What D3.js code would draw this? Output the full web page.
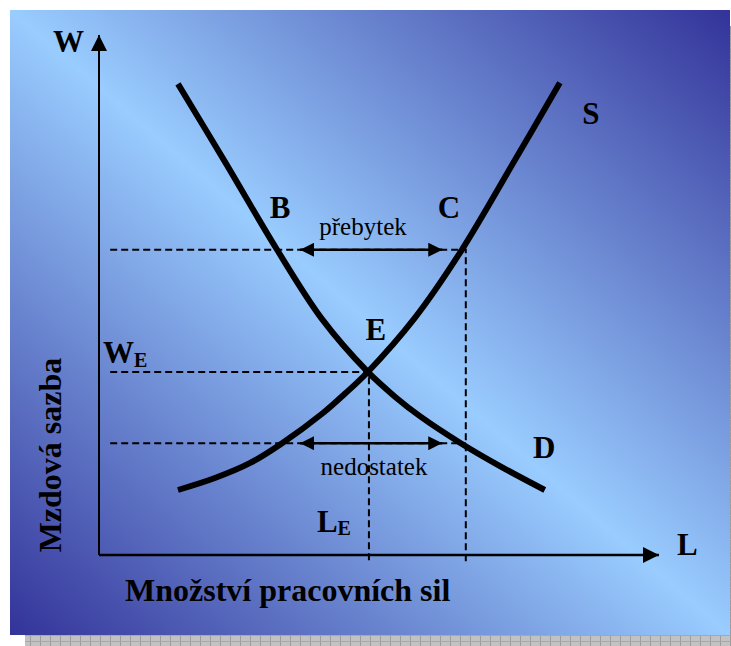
<!DOCTYPE html>
<html>
<head>
<meta charset="utf-8">
<script src="https://cdn.jsdelivr.net/npm/d3@7"></script>
<style>
  body { margin: 0; background: #fff; }
  text { font-family: "Liberation Serif", "Times New Roman", serif; }
</style>
</head>
<body>
<svg id="chart" width="731" height="646"></svg>
<script>
// demand curve (labour L, wage W), chart units 0-100
const demand = [
  { l: 14.1, w: 90.6 }, { l: 22.5, w: 75.6 }, { l: 31.8, w: 58.7 },
  { l: 39.8, w: 45.4 }, { l: 48.0, w: 35.2 }, { l: 52.9, w: 30.4 },
  { l: 57.3, w: 26.7 }, { l: 64.6, w: 21.5 }, { l: 71.6, w: 17.1 },
  { l: 79.6, w: 12.5 }
];
// supply curve
const supply = [
  { l: 14.1, w: 12.5 }, { l: 20.7, w: 14.8 }, { l: 27.0, w: 17.7 },
  { l: 32.7, w: 21.5 }, { l: 40.0, w: 27.3 }, { l: 43.9, w: 31.0 },
  { l: 48.0, w: 35.2 }, { l: 56.4, w: 45.6 }, { l: 64.8, w: 58.7 },
  { l: 74.3, w: 76.0 }, { l: 82.3, w: 90.8 }
];
// wage levels and labour quantities
const wageHigh = 58.7, wageEq = 35.2, wageLow = 21.5;
const laborEq = 48.2, laborHigh = 65.5;
// gap arrows (from, to) in labour units
const gapArrow = [35.9, 61.3];
// point labels: text, position in chart units
const pointLabels = [
  { t: "S", l: 86.3, w: 82.9 },
  { t: "B", l: 30.5, w: 64.8 },
  { t: "C", l: 60.5, w: 64.8 },
  { t: "E", l: 47.6, w: 41.3 },
  { t: "D", l: 77.5, w: 18.7 }
];

const svg = d3.select("#chart");
const defs = svg.append("defs");

// background gradient (dark corners top-right / bottom-left)
const grad = defs.append("linearGradient")
  .attr("id", "bg")
  .attr("x1", 1).attr("y1", 0).attr("x2", 0).attr("y2", 1);
grad.append("stop").attr("offset", 0).attr("stop-color", "#333399");
grad.append("stop").attr("offset", 0.5).attr("stop-color", "#99ccff");
grad.append("stop").attr("offset", 1).attr("stop-color", "#333399");

// gray shadow pattern
const pat = defs.append("pattern")
  .attr("id", "shadow")
  .attr("patternUnits", "userSpaceOnUse")
  .attr("width", 10).attr("height", 6);
pat.append("rect").attr("width", 10).attr("height", 6).attr("fill", "#c2c2c2");
pat.append("rect").attr("width", 1).attr("height", 6).attr("fill", "#9c9c9c");
pat.append("rect").attr("y", 5).attr("width", 10).attr("height", 1).attr("fill", "#a8a8a8");

svg.append("rect").attr("x", 25).attr("y", 635).attr("width", 706).attr("height", 11)
  .attr("fill", "url(#shadow)");
svg.append("rect").attr("x", 730).attr("y", 26).attr("width", 1).attr("height", 620)
  .attr("fill", "url(#shadow)");
svg.append("rect").attr("x", 10).attr("y", 10).attr("width", 720).attr("height", 625)
  .attr("fill", "url(#bg)");

// arrow markers
function marker(id, len, half) {
  defs.append("marker")
    .attr("id", id)
    .attr("markerUnits", "userSpaceOnUse")
    .attr("markerWidth", len).attr("markerHeight", half * 2)
    .attr("refX", len).attr("refY", half)
    .attr("orient", "auto-start-reverse")
    .append("path")
    .attr("d", `M0,0L${len},${half}L0,${half * 2}Z`)
    .attr("fill", "#000");
}
marker("axisHead", 16, 8);
marker("gapHead", 14, 7);

// scales
const x = d3.scaleLinear().domain([0, 100]).range([99, 659]);
const y = d3.scaleLinear().domain([0, 100]).range([555, 35]);

// dashed guide lines
const dashed = [
  [[2, wageHigh], [laborHigh, wageHigh], [laborHigh, -1.4]],
  [[2, wageEq], [laborEq, wageEq], [laborEq, -1.4]],
  [[2, wageLow], [laborHigh, wageLow]]
];
const guide = d3.line().x((d) => x(d[0])).y((d) => y(d[1]));
svg.selectAll(".guide")
  .data(dashed)
  .join("path")
  .attr("class", "guide")
  .attr("d", guide)
  .attr("fill", "none")
  .attr("stroke", "#000")
  .attr("stroke-width", 2)
  .attr("stroke-dasharray", "7,4");

// axes with arrow heads
svg.append("line")
  .attr("x1", x(0)).attr("y1", y(0)).attr("x2", x(0)).attr("y2", y(100))
  .attr("stroke", "#000").attr("stroke-width", 2)
  .attr("marker-end", "url(#axisHead)");
svg.append("line")
  .attr("x1", x(0)).attr("y1", y(0)).attr("x2", x(100)).attr("y2", y(0))
  .attr("stroke", "#000").attr("stroke-width", 2.5)
  .attr("marker-end", "url(#axisHead)");

// surplus / shortage double arrows
svg.selectAll(".gap")
  .data([wageHigh, wageLow])
  .join("line")
  .attr("class", "gap")
  .attr("x1", x(gapArrow[0])).attr("x2", x(gapArrow[1]))
  .attr("y1", (d) => y(d)).attr("y2", (d) => y(d))
  .attr("stroke", "#000").attr("stroke-width", 2.5)
  .attr("marker-start", "url(#gapHead)")
  .attr("marker-end", "url(#gapHead)");

// curves
const curve = d3.line()
  .x((d) => x(d.l))
  .y((d) => y(d.w))
  .curve(d3.curveCatmullRom);
svg.selectAll(".curve")
  .data([demand, supply])
  .join("path")
  .attr("class", "curve")
  .attr("d", curve)
  .attr("fill", "none")
  .attr("stroke", "#000")
  .attr("stroke-width", 6);

// point labels
svg.selectAll(".plabel")
  .data(pointLabels)
  .join("text")
  .attr("class", "plabel")
  .attr("x", (d) => x(d.l))
  .attr("y", (d) => y(d.w))
  .attr("font-size", 31)
  .attr("font-weight", "bold")
  .text((d) => d.t);

// axis letters
svg.append("text").attr("x", 53).attr("y", 52)
  .attr("font-size", 31).attr("font-weight", "bold").text("W");
svg.append("text").attr("x", 677).attr("y", 555)
  .attr("font-size", 31).attr("font-weight", "bold").text("L");

// W_E and L_E with subscripts
const we = svg.append("text").attr("x", 103).attr("y", y(wageEq) - 9)
  .attr("font-size", 31).attr("font-weight", "bold");
we.append("tspan").text("W");
we.append("tspan").attr("font-size", 20).attr("dy", 4).text("E");
const le = svg.append("text").attr("x", x(laborEq) - 52).attr("y", 532)
  .attr("font-size", 31).attr("font-weight", "bold");
le.append("tspan").text("L");
le.append("tspan").attr("font-size", 20).attr("dy", 3).text("E");

// gap labels
svg.append("text").attr("x", 363).attr("y", 235)
  .attr("text-anchor", "middle").attr("font-size", 25).text("přebytek");
svg.append("text").attr("x", 374).attr("y", 475)
  .attr("text-anchor", "middle").attr("font-size", 25).text("nedostatek");

// axis titles
svg.append("text").attr("x", 125).attr("y", 601)
  .attr("font-size", 32).attr("font-weight", "bold")
  .text("Množství pracovních sil");
svg.append("text")
  .attr("transform", "translate(61,455) rotate(-90)")
  .attr("text-anchor", "middle")
  .attr("font-size", 32).attr("font-weight", "bold")
  .text("Mzdová sazba");
</script>
</body>
</html>
